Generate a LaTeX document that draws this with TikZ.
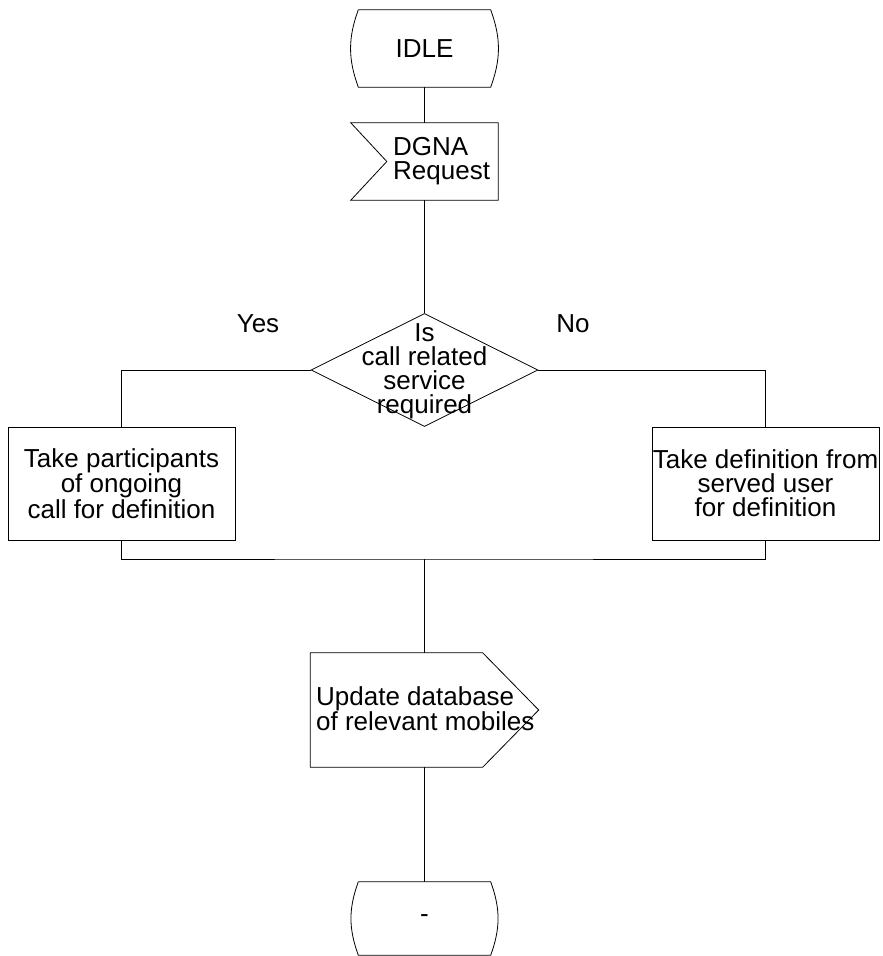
\documentclass[tikz,border=0pt]{standalone}
\usepackage{fontspec}
\setmainfont{Liberation Sans}
\usetikzlibrary{shapes.geometric}

\begin{document}
\begin{tikzpicture}[
    x=1pt, y=-1pt,
    every node/.style={font=\fontsize{26}{24}\selectfont, inner sep=0pt},
    line/.style={draw, line width=0.8pt},
    sdlstate/.style={rectangle, minimum width=132, minimum height=77},
    sdlinput/.style={rectangle, minimum width=147, minimum height=77},
    sdloutput/.style={rectangle, minimum width=228, minimum height=114},
    decision/.style={line, diamond, minimum width=227, minimum height=113},
    task/.style={line, rectangle, minimum width=227, minimum height=113, align=center},
]
    \useasboundingbox (0,0) rectangle (883,956);

    % states and signals
    \node[sdlstate] (idle) at (424.5,48.5) {IDLE};
    \draw[line] (idle.north west) -- (idle.north east) to[bend left=20] (idle.south east)
        -- (idle.south west) to[bend left=20] (idle.north west);

    \node[sdlinput] (dgna) at (424.5,161.5) {};
    \draw[line] (dgna.north west) -- (dgna.north east) -- (dgna.south east)
        -- (dgna.south west) -- ([xshift=36]dgna.west) -- cycle;
    \node[anchor=west, align=left] (dgnatext) at (393,161) {DGNA\\Request};

    % decision
    \node[decision] (dec) at (424.5,370) {};
    \node[align=center] (dectext) at (424.5,371) {Is\\call related\\service\\required};
    \node (yes) at (258,324) {Yes};
    \node (no) at (573,324) {No};

    % tasks
    \node[task] (take) at (121.5,483.5) {Take participants\\of ongoing\\call for definition};
    \node[task] (served) at (765.5,483.5) {Take definition from\\served user\\for definition};
    \coordinate (merge) at (424.5,559);

    \node[sdloutput] (upd) at (424.5,710) {};
    \draw[line] (upd.north west) -- ([xshift=-56]upd.north east) -- (upd.east)
        -- ([xshift=-56]upd.south east) -- (upd.south west) -- cycle;
    \node[anchor=west, align=left] (updtext) at (316,709) {Update database\\of relevant mobiles};

    \node[sdlstate, minimum height=73] (stop) at (424.5,918.5) {-};
    \draw[line] (stop.north west) -- (stop.north east) to[bend left=20] (stop.south east)
        -- (stop.south west) to[bend left=20] (stop.north west);

    % connectors
    \draw[line] (idle.south) -- (dgna.north);
    \draw[line] (dgna.south) -- (dec.north);
    \draw[line] (dec.west) -| (take.north);
    \draw[line] (dec.east) -| (served.north);
    \draw[line] (take.south) |- (merge) -| (served.south);
    \draw[line] (merge) -- (upd.north);
    \draw[line] (upd.south) -- (stop.north);
\end{tikzpicture}
\end{document}
